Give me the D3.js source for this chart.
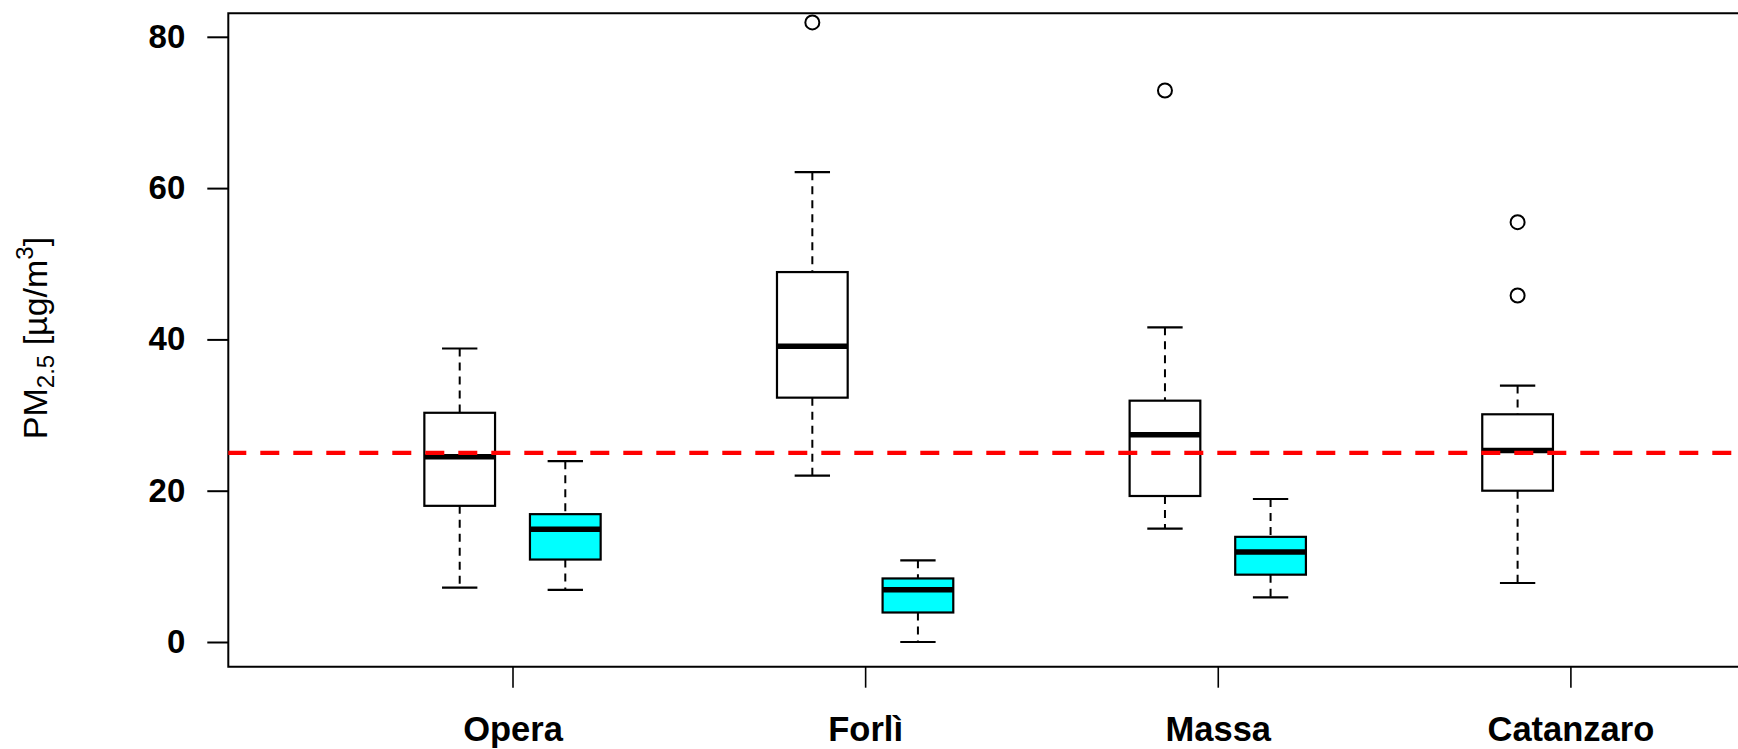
<!DOCTYPE html>
<html>
<head>
<meta charset="utf-8">
<script src="https://cdn.jsdelivr.net/npm/d3@7"></script>
<style>
  html, body { margin: 0; padding: 0; background: #ffffff; }
  svg { display: block; }
</style>
</head>
<body>
<div id="chart"></div>
<script>
// Monitoring sites along the x axis
const sites = ["Opera", "Forlì", "Massa", "Catanzaro"];

// Box statistics per site: [lower whisker, Q1, median, Q3, upper whisker]
const groupA = [
  [7.2, 18.0, 24.5, 30.3, 38.8],
  [22.0, 32.3, 39.1, 48.9, 62.1],
  [15.0, 19.3, 27.4, 31.9, 41.6],
  [7.8, 20.0, 25.3, 30.1, 33.9]
];
const groupB = [
  [6.9, 10.9, 14.9, 16.9, 23.9],
  [0.0, 3.9, 6.9, 8.4, 10.8],
  [5.9, 8.9, 11.9, 13.9, 18.9],
  null
];

// Outlying observations per site
const outliersA = [[], [81.9], [72.9], [55.5, 45.8]];
const outliersB = [[], [], [], []];

// Annual limit value for PM2.5
const limitValue = 25;

// Y axis ticks
const yTicks = [0, 20, 40, 60, 80];

const width = 1738, height = 749;
const frame = { left: 228.3, top: 13.3, bottom: 666.7, right: 1760 };

const svg = d3.select("#chart").append("svg")
  .attr("width", width).attr("height", height);

const x = d3.scalePoint().domain(sites).range([512.5, 1570.4]);
const offset = d3.scaleOrdinal().domain(["A", "B"]).range([-52.8, 52.8]);
const y = d3.scaleLinear().domain([0, 80]).range([642.0, 36.8]);

const boxWidth = 70.7;
const capWidth = boxWidth / 2;

// Y axis
const yAxis = svg.append("g")
  .attr("transform", `translate(${frame.left},0)`)
  .call(d3.axisLeft(y).tickValues(yTicks).tickSize(21).tickPadding(22).tickFormat(d3.format("d")));
yAxis.select(".domain").remove();
yAxis.selectAll(".tick line").attr("stroke", "#000").attr("stroke-width", 2);
yAxis.selectAll(".tick text")
  .attr("fill", "#000")
  .style("font-family", "'Liberation Sans', Arial, sans-serif")
  .style("font-weight", "bold")
  .style("font-size", "33px");

// X axis
const xAxis = svg.append("g")
  .attr("transform", `translate(0,${frame.bottom})`)
  .call(d3.axisBottom(x).tickSize(21).tickPadding(29));
xAxis.select(".domain").remove();
xAxis.selectAll(".tick line").attr("stroke", "#000").attr("stroke-width", 1.6);
xAxis.selectAll(".tick text")
  .attr("fill", "#000")
  .style("font-family", "'Liberation Sans', Arial, sans-serif")
  .style("font-weight", "bold")
  .style("font-size", "34.5px");

// Plot frame (open on the right side)
svg.append("path")
  .attr("d", `M${frame.right},${frame.top}H${frame.left}V${frame.bottom}H${frame.right}`)
  .attr("fill", "none").attr("stroke", "#000").attr("stroke-width", 2);

// Y axis title with subscript and superscript
const title = svg.append("text")
  .attr("transform", "translate(47,338) rotate(-90)")
  .attr("text-anchor", "middle")
  .style("font-family", "'Liberation Sans', Arial, sans-serif")
  .style("font-size", "34px")
  .attr("fill", "#000");
title.append("tspan").text("PM");
title.append("tspan").attr("dy", 7).style("font-size", "24px").text("2.5");
title.append("tspan").attr("dy", -7).text(" [µg/m");
title.append("tspan").attr("dy", -14).style("font-size", "24px").text("3");
title.append("tspan").attr("dy", 14).text("]");

// Draw one set of boxes
function drawBoxes(stats, outliers, key, fill) {
  const g = svg.append("g");
  stats.forEach((s, i) => {
    if (!s) return;
    const cx = x(sites[i]) + offset(key);
    const [lo, q1, med, q3, hi] = s;
    // whiskers
    g.append("line")
      .attr("x1", cx).attr("x2", cx).attr("y1", y(hi)).attr("y2", y(q3))
      .attr("stroke", "#000").attr("stroke-width", 2).attr("stroke-dasharray", "8,6");
    g.append("line")
      .attr("x1", cx).attr("x2", cx).attr("y1", y(q1)).attr("y2", y(lo))
      .attr("stroke", "#000").attr("stroke-width", 2).attr("stroke-dasharray", "8,6");
    // caps
    [lo, hi].forEach(v => {
      g.append("line")
        .attr("x1", cx - capWidth / 2).attr("x2", cx + capWidth / 2)
        .attr("y1", y(v)).attr("y2", y(v))
        .attr("stroke", "#000").attr("stroke-width", 2.2);
    });
    // box
    g.append("rect")
      .attr("x", cx - boxWidth / 2).attr("width", boxWidth)
      .attr("y", y(q3)).attr("height", y(q1) - y(q3))
      .attr("fill", fill).attr("stroke", "#000").attr("stroke-width", 2.2);
    // median
    g.append("line")
      .attr("x1", cx - boxWidth / 2).attr("x2", cx + boxWidth / 2)
      .attr("y1", y(med)).attr("y2", y(med))
      .attr("stroke", "#000").attr("stroke-width", 5.5);
    // outliers
    (outliers[i] || []).forEach(v => {
      g.append("circle")
        .attr("cx", cx).attr("cy", y(v)).attr("r", 7)
        .attr("fill", "none").attr("stroke", "#000").attr("stroke-width", 2);
    });
  });
}

drawBoxes(groupA, outliersA, "A", "#ffffff");
drawBoxes(groupB, outliersB, "B", "#00ffff");

// Limit value reference line
svg.append("line")
  .attr("x1", frame.left).attr("x2", width)
  .attr("y1", y(limitValue)).attr("y2", y(limitValue))
  .attr("stroke", "#ff0000").attr("stroke-width", 4.2)
  .attr("stroke-dasharray", "19,14").attr("stroke-dashoffset", 1);
</script>
</body>
</html>
